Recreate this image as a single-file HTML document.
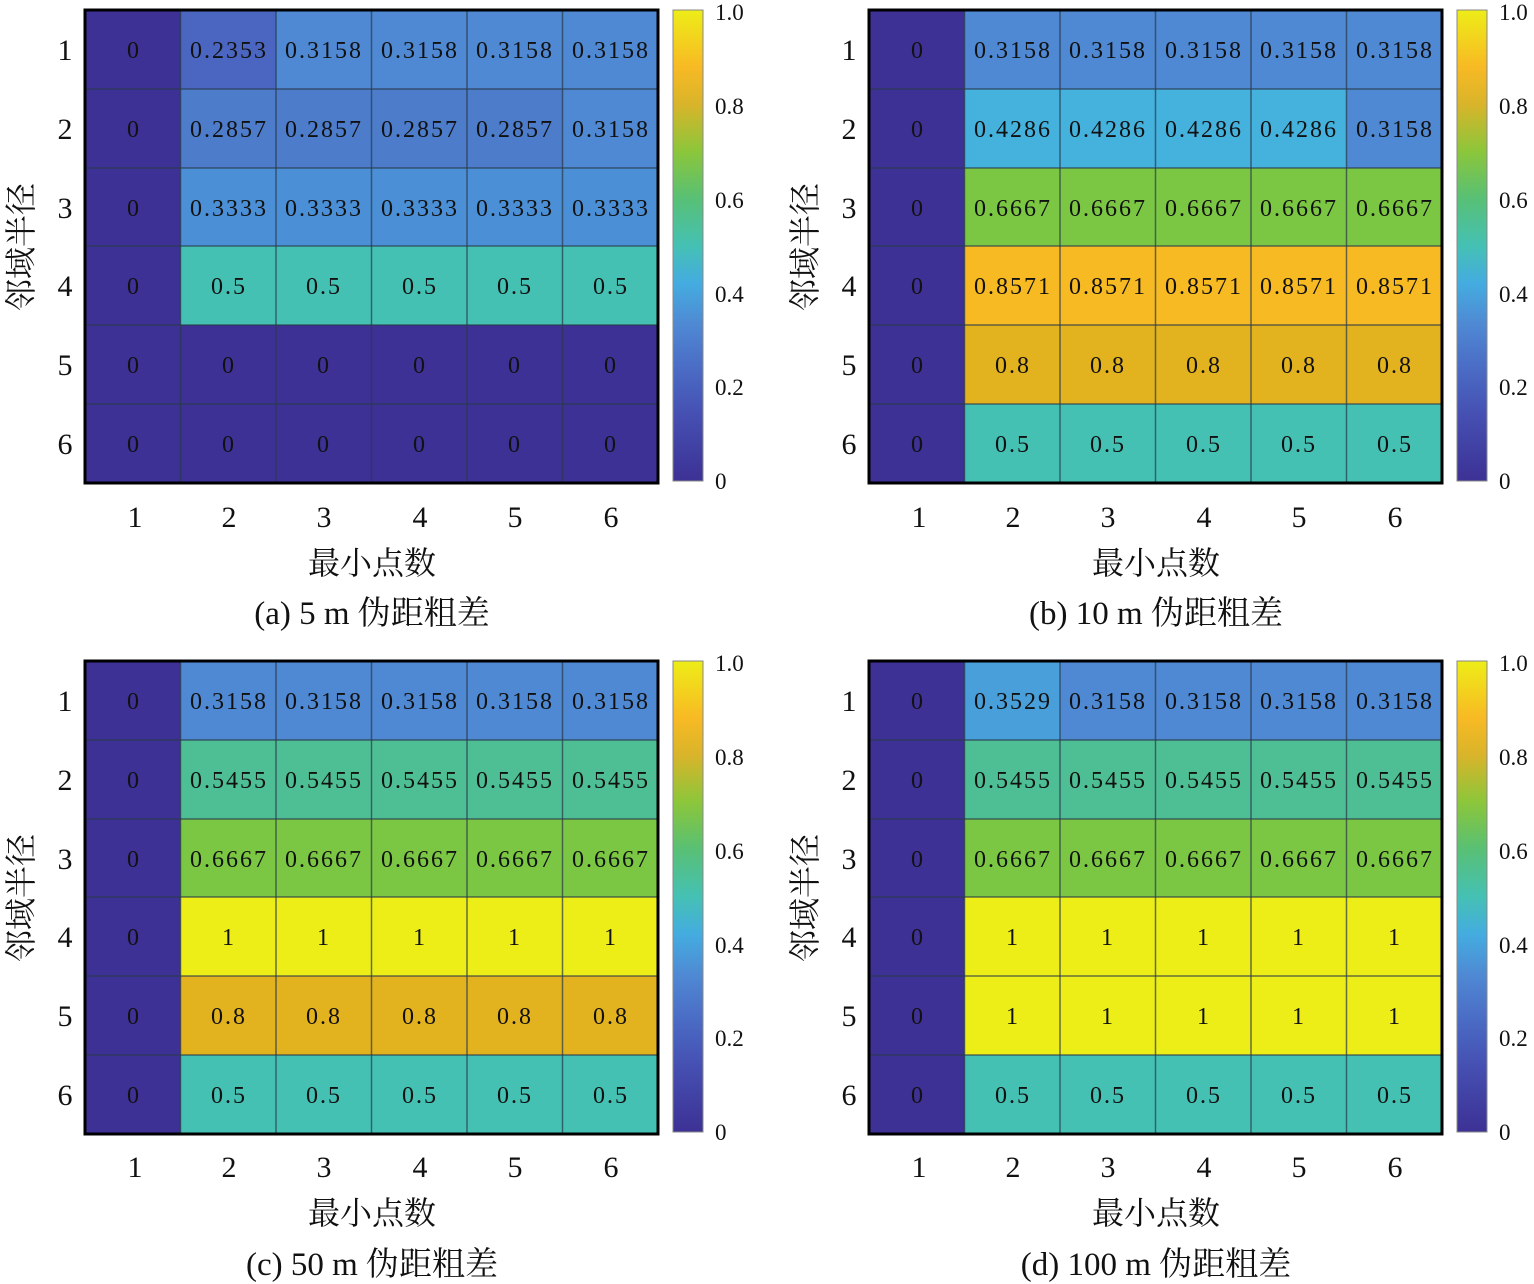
<!DOCTYPE html>
<html><head><meta charset="utf-8"><style>
html,body{margin:0;padding:0;background:#fff;}
svg{display:block;}
text{font-family:"Liberation Serif","Noto Serif CJK SC",serif;fill:#111;}
.c{font-size:24px;text-anchor:middle;letter-spacing:2px;}
.t{font-size:30px;text-anchor:middle;}
.cb{font-size:23px;}
.cj{font-family:"Liberation Serif","Noto Serif CJK SC",serif;font-size:32px;text-anchor:middle;}
.cap{font-family:"Liberation Serif","Noto Serif CJK SC",serif;font-size:33px;text-anchor:middle;}
.g line{stroke:#2a3a4a;stroke-width:1.5;opacity:.7}
</style></head><body>
<svg width="1534" height="1284" viewBox="0 0 1534 1284" xmlns="http://www.w3.org/2000/svg">
<defs>
<linearGradient id="pg" x1="0" y1="1" x2="0" y2="0">
<stop offset="0" stop-color="#3d3195"/><stop offset="0.15" stop-color="#4652b4"/><stop offset="0.25" stop-color="#4b6fc7"/><stop offset="0.33" stop-color="#4f88d3"/><stop offset="0.42" stop-color="#44ace0"/><stop offset="0.5" stop-color="#45c1b4"/><stop offset="0.6" stop-color="#58c075"/><stop offset="0.7" stop-color="#8cc63a"/><stop offset="0.8" stop-color="#d9b42a"/><stop offset="0.88" stop-color="#f8ba24"/><stop offset="1" stop-color="#eded17"/>
</linearGradient>
</defs>

<!-- Panel a -->
<g transform="translate(85,10)">
<rect x="0" y="0" width="95.5" height="473" fill="#3d3195"/>
<rect x="95.5" y="0" width="95.5" height="79" fill="#4b66c0"/>
<rect x="191" y="0" width="382" height="79" fill="#4f88d3"/>
<rect x="95.5" y="79" width="382" height="79" fill="#4d7ccb"/>
<rect x="477.5" y="79" width="95.5" height="79" fill="#4f88d3"/>
<rect x="95.5" y="158" width="477.5" height="78" fill="#4b8fd6"/>
<rect x="95.5" y="236" width="477.5" height="79" fill="#45c1b4"/>
<rect x="95.5" y="315" width="477.5" height="158" fill="#3d3195"/>
<g class="g"><line x1="95.5" y1="0" x2="95.5" y2="473"/><line x1="191" y1="0" x2="191" y2="473"/><line x1="286.5" y1="0" x2="286.5" y2="473"/><line x1="382" y1="0" x2="382" y2="473"/><line x1="477.5" y1="0" x2="477.5" y2="473"/><line x1="0" y1="79" x2="573" y2="79"/><line x1="0" y1="158" x2="573" y2="158"/><line x1="0" y1="236" x2="573" y2="236"/><line x1="0" y1="315" x2="573" y2="315"/><line x1="0" y1="394" x2="573" y2="394"/></g>
<rect x="0" y="0" width="573" height="473" fill="none" stroke="#000" stroke-width="3"/>
<text class="c" x="49" y="48">0</text><text class="c" x="144" y="48">0.2353</text><text class="c" x="239" y="48">0.3158</text><text class="c" x="335" y="48">0.3158</text><text class="c" x="430" y="48">0.3158</text><text class="c" x="526" y="48">0.3158</text>
<text class="c" x="49" y="127">0</text><text class="c" x="144" y="127">0.2857</text><text class="c" x="239" y="127">0.2857</text><text class="c" x="335" y="127">0.2857</text><text class="c" x="430" y="127">0.2857</text><text class="c" x="526" y="127">0.3158</text>
<text class="c" x="49" y="206">0</text><text class="c" x="144" y="206">0.3333</text><text class="c" x="239" y="206">0.3333</text><text class="c" x="335" y="206">0.3333</text><text class="c" x="430" y="206">0.3333</text><text class="c" x="526" y="206">0.3333</text>
<text class="c" x="49" y="284">0</text><text class="c" x="144" y="284">0.5</text><text class="c" x="239" y="284">0.5</text><text class="c" x="335" y="284">0.5</text><text class="c" x="430" y="284">0.5</text><text class="c" x="526" y="284">0.5</text>
<text class="c" x="49" y="363">0</text><text class="c" x="144" y="363">0</text><text class="c" x="239" y="363">0</text><text class="c" x="335" y="363">0</text><text class="c" x="430" y="363">0</text><text class="c" x="526" y="363">0</text>
<text class="c" x="49" y="442">0</text><text class="c" x="144" y="442">0</text><text class="c" x="239" y="442">0</text><text class="c" x="335" y="442">0</text><text class="c" x="430" y="442">0</text><text class="c" x="526" y="442">0</text>
<text class="t" x="-20" y="50">1</text><text class="t" x="-20" y="129">2</text><text class="t" x="-20" y="208">3</text><text class="t" x="-20" y="286">4</text><text class="t" x="-20" y="365">5</text><text class="t" x="-20" y="444">6</text>
<text class="t" x="50" y="517">1</text><text class="t" x="144" y="517">2</text><text class="t" x="239" y="517">3</text><text class="t" x="335" y="517">4</text><text class="t" x="430" y="517">5</text><text class="t" x="526" y="517">6</text>
<text class="cj" x="287" y="564">最小点数</text>
<text class="cap" x="287" y="614">(a) 5 m 伪距粗差</text>
<text class="cj" transform="translate(-63,237) rotate(-90)" y="10">邻域半径</text>
<rect x="588" y="0" width="30" height="471" fill="url(#pg)" stroke="#888" stroke-width="1"/>
<text class="cb" x="630" y="10">1.0</text><text class="cb" x="630" y="104">0.8</text><text class="cb" x="630" y="198">0.6</text><text class="cb" x="630" y="292">0.4</text><text class="cb" x="630" y="385">0.2</text><text class="cb" x="630" y="479">0</text>
</g>

<!-- Panel b -->
<g transform="translate(869,10)">
<rect x="0" y="0" width="95.5" height="473" fill="#3d3195"/>
<rect x="95.5" y="0" width="477.5" height="79" fill="#4f88d3"/>
<rect x="95.5" y="79" width="382" height="79" fill="#45b2dd"/>
<rect x="477.5" y="79" width="95.5" height="79" fill="#4f88d3"/>
<rect x="95.5" y="158" width="477.5" height="78" fill="#7bc744"/>
<rect x="95.5" y="236" width="477.5" height="79" fill="#f7ba22"/>
<rect x="95.5" y="315" width="477.5" height="79" fill="#e3b31f"/>
<rect x="95.5" y="394" width="477.5" height="79" fill="#45c1b4"/>
<g class="g"><line x1="95.5" y1="0" x2="95.5" y2="473"/><line x1="191" y1="0" x2="191" y2="473"/><line x1="286.5" y1="0" x2="286.5" y2="473"/><line x1="382" y1="0" x2="382" y2="473"/><line x1="477.5" y1="0" x2="477.5" y2="473"/><line x1="0" y1="79" x2="573" y2="79"/><line x1="0" y1="158" x2="573" y2="158"/><line x1="0" y1="236" x2="573" y2="236"/><line x1="0" y1="315" x2="573" y2="315"/><line x1="0" y1="394" x2="573" y2="394"/></g>
<rect x="0" y="0" width="573" height="473" fill="none" stroke="#000" stroke-width="3"/>
<text class="c" x="49" y="48">0</text><text class="c" x="144" y="48">0.3158</text><text class="c" x="239" y="48">0.3158</text><text class="c" x="335" y="48">0.3158</text><text class="c" x="430" y="48">0.3158</text><text class="c" x="526" y="48">0.3158</text>
<text class="c" x="49" y="127">0</text><text class="c" x="144" y="127">0.4286</text><text class="c" x="239" y="127">0.4286</text><text class="c" x="335" y="127">0.4286</text><text class="c" x="430" y="127">0.4286</text><text class="c" x="526" y="127">0.3158</text>
<text class="c" x="49" y="206">0</text><text class="c" x="144" y="206">0.6667</text><text class="c" x="239" y="206">0.6667</text><text class="c" x="335" y="206">0.6667</text><text class="c" x="430" y="206">0.6667</text><text class="c" x="526" y="206">0.6667</text>
<text class="c" x="49" y="284">0</text><text class="c" x="144" y="284">0.8571</text><text class="c" x="239" y="284">0.8571</text><text class="c" x="335" y="284">0.8571</text><text class="c" x="430" y="284">0.8571</text><text class="c" x="526" y="284">0.8571</text>
<text class="c" x="49" y="363">0</text><text class="c" x="144" y="363">0.8</text><text class="c" x="239" y="363">0.8</text><text class="c" x="335" y="363">0.8</text><text class="c" x="430" y="363">0.8</text><text class="c" x="526" y="363">0.8</text>
<text class="c" x="49" y="442">0</text><text class="c" x="144" y="442">0.5</text><text class="c" x="239" y="442">0.5</text><text class="c" x="335" y="442">0.5</text><text class="c" x="430" y="442">0.5</text><text class="c" x="526" y="442">0.5</text>
<text class="t" x="-20" y="50">1</text><text class="t" x="-20" y="129">2</text><text class="t" x="-20" y="208">3</text><text class="t" x="-20" y="286">4</text><text class="t" x="-20" y="365">5</text><text class="t" x="-20" y="444">6</text>
<text class="t" x="50" y="517">1</text><text class="t" x="144" y="517">2</text><text class="t" x="239" y="517">3</text><text class="t" x="335" y="517">4</text><text class="t" x="430" y="517">5</text><text class="t" x="526" y="517">6</text>
<text class="cj" x="287" y="564">最小点数</text>
<text class="cap" x="287" y="614">(b) 10 m 伪距粗差</text>
<text class="cj" transform="translate(-63,237) rotate(-90)" y="10">邻域半径</text>
<rect x="588" y="0" width="30" height="471" fill="url(#pg)" stroke="#888" stroke-width="1"/>
<text class="cb" x="630" y="10">1.0</text><text class="cb" x="630" y="104">0.8</text><text class="cb" x="630" y="198">0.6</text><text class="cb" x="630" y="292">0.4</text><text class="cb" x="630" y="385">0.2</text><text class="cb" x="630" y="479">0</text>
</g>

<!-- Panel c -->
<g transform="translate(85,661)">
<rect x="0" y="0" width="95.5" height="473" fill="#3d3195"/>
<rect x="95.5" y="0" width="477.5" height="79" fill="#4f88d3"/>
<rect x="95.5" y="79" width="477.5" height="79" fill="#4ebf95"/>
<rect x="95.5" y="158" width="477.5" height="78" fill="#7bc744"/>
<rect x="95.5" y="236" width="477.5" height="79" fill="#eded17"/>
<rect x="95.5" y="315" width="477.5" height="79" fill="#e3b31f"/>
<rect x="95.5" y="394" width="477.5" height="79" fill="#45c1b4"/>
<g class="g"><line x1="95.5" y1="0" x2="95.5" y2="473"/><line x1="191" y1="0" x2="191" y2="473"/><line x1="286.5" y1="0" x2="286.5" y2="473"/><line x1="382" y1="0" x2="382" y2="473"/><line x1="477.5" y1="0" x2="477.5" y2="473"/><line x1="0" y1="79" x2="573" y2="79"/><line x1="0" y1="158" x2="573" y2="158"/><line x1="0" y1="236" x2="573" y2="236"/><line x1="0" y1="315" x2="573" y2="315"/><line x1="0" y1="394" x2="573" y2="394"/></g>
<rect x="0" y="0" width="573" height="473" fill="none" stroke="#000" stroke-width="3"/>
<text class="c" x="49" y="48">0</text><text class="c" x="144" y="48">0.3158</text><text class="c" x="239" y="48">0.3158</text><text class="c" x="335" y="48">0.3158</text><text class="c" x="430" y="48">0.3158</text><text class="c" x="526" y="48">0.3158</text>
<text class="c" x="49" y="127">0</text><text class="c" x="144" y="127">0.5455</text><text class="c" x="239" y="127">0.5455</text><text class="c" x="335" y="127">0.5455</text><text class="c" x="430" y="127">0.5455</text><text class="c" x="526" y="127">0.5455</text>
<text class="c" x="49" y="206">0</text><text class="c" x="144" y="206">0.6667</text><text class="c" x="239" y="206">0.6667</text><text class="c" x="335" y="206">0.6667</text><text class="c" x="430" y="206">0.6667</text><text class="c" x="526" y="206">0.6667</text>
<text class="c" x="49" y="284">0</text><text class="c" x="144" y="284">1</text><text class="c" x="239" y="284">1</text><text class="c" x="335" y="284">1</text><text class="c" x="430" y="284">1</text><text class="c" x="526" y="284">1</text>
<text class="c" x="49" y="363">0</text><text class="c" x="144" y="363">0.8</text><text class="c" x="239" y="363">0.8</text><text class="c" x="335" y="363">0.8</text><text class="c" x="430" y="363">0.8</text><text class="c" x="526" y="363">0.8</text>
<text class="c" x="49" y="442">0</text><text class="c" x="144" y="442">0.5</text><text class="c" x="239" y="442">0.5</text><text class="c" x="335" y="442">0.5</text><text class="c" x="430" y="442">0.5</text><text class="c" x="526" y="442">0.5</text>
<text class="t" x="-20" y="50">1</text><text class="t" x="-20" y="129">2</text><text class="t" x="-20" y="208">3</text><text class="t" x="-20" y="286">4</text><text class="t" x="-20" y="365">5</text><text class="t" x="-20" y="444">6</text>
<text class="t" x="50" y="516">1</text><text class="t" x="144" y="516">2</text><text class="t" x="239" y="516">3</text><text class="t" x="335" y="516">4</text><text class="t" x="430" y="516">5</text><text class="t" x="526" y="516">6</text>
<text class="cj" x="287" y="563">最小点数</text>
<text class="cap" x="287" y="614">(c) 50 m 伪距粗差</text>
<text class="cj" transform="translate(-63,237) rotate(-90)" y="10">邻域半径</text>
<rect x="588" y="0" width="30" height="471" fill="url(#pg)" stroke="#888" stroke-width="1"/>
<text class="cb" x="630" y="10">1.0</text><text class="cb" x="630" y="104">0.8</text><text class="cb" x="630" y="198">0.6</text><text class="cb" x="630" y="292">0.4</text><text class="cb" x="630" y="385">0.2</text><text class="cb" x="630" y="479">0</text>
</g>

<!-- Panel d -->
<g transform="translate(869,661)">
<rect x="0" y="0" width="95.5" height="473" fill="#3d3195"/>
<rect x="95.5" y="0" width="95.5" height="79" fill="#489fda"/>
<rect x="191" y="0" width="382" height="79" fill="#4f88d3"/>
<rect x="95.5" y="79" width="477.5" height="79" fill="#4ebf95"/>
<rect x="95.5" y="158" width="477.5" height="78" fill="#7bc744"/>
<rect x="95.5" y="236" width="477.5" height="158" fill="#eded17"/>
<rect x="95.5" y="394" width="477.5" height="79" fill="#45c1b4"/>
<g class="g"><line x1="95.5" y1="0" x2="95.5" y2="473"/><line x1="191" y1="0" x2="191" y2="473"/><line x1="286.5" y1="0" x2="286.5" y2="473"/><line x1="382" y1="0" x2="382" y2="473"/><line x1="477.5" y1="0" x2="477.5" y2="473"/><line x1="0" y1="79" x2="573" y2="79"/><line x1="0" y1="158" x2="573" y2="158"/><line x1="0" y1="236" x2="573" y2="236"/><line x1="0" y1="315" x2="573" y2="315"/><line x1="0" y1="394" x2="573" y2="394"/></g>
<rect x="0" y="0" width="573" height="473" fill="none" stroke="#000" stroke-width="3"/>
<text class="c" x="49" y="48">0</text><text class="c" x="144" y="48">0.3529</text><text class="c" x="239" y="48">0.3158</text><text class="c" x="335" y="48">0.3158</text><text class="c" x="430" y="48">0.3158</text><text class="c" x="526" y="48">0.3158</text>
<text class="c" x="49" y="127">0</text><text class="c" x="144" y="127">0.5455</text><text class="c" x="239" y="127">0.5455</text><text class="c" x="335" y="127">0.5455</text><text class="c" x="430" y="127">0.5455</text><text class="c" x="526" y="127">0.5455</text>
<text class="c" x="49" y="206">0</text><text class="c" x="144" y="206">0.6667</text><text class="c" x="239" y="206">0.6667</text><text class="c" x="335" y="206">0.6667</text><text class="c" x="430" y="206">0.6667</text><text class="c" x="526" y="206">0.6667</text>
<text class="c" x="49" y="284">0</text><text class="c" x="144" y="284">1</text><text class="c" x="239" y="284">1</text><text class="c" x="335" y="284">1</text><text class="c" x="430" y="284">1</text><text class="c" x="526" y="284">1</text>
<text class="c" x="49" y="363">0</text><text class="c" x="144" y="363">1</text><text class="c" x="239" y="363">1</text><text class="c" x="335" y="363">1</text><text class="c" x="430" y="363">1</text><text class="c" x="526" y="363">1</text>
<text class="c" x="49" y="442">0</text><text class="c" x="144" y="442">0.5</text><text class="c" x="239" y="442">0.5</text><text class="c" x="335" y="442">0.5</text><text class="c" x="430" y="442">0.5</text><text class="c" x="526" y="442">0.5</text>
<text class="t" x="-20" y="50">1</text><text class="t" x="-20" y="129">2</text><text class="t" x="-20" y="208">3</text><text class="t" x="-20" y="286">4</text><text class="t" x="-20" y="365">5</text><text class="t" x="-20" y="444">6</text>
<text class="t" x="50" y="516">1</text><text class="t" x="144" y="516">2</text><text class="t" x="239" y="516">3</text><text class="t" x="335" y="516">4</text><text class="t" x="430" y="516">5</text><text class="t" x="526" y="516">6</text>
<text class="cj" x="287" y="563">最小点数</text>
<text class="cap" x="287" y="614">(d) 100 m 伪距粗差</text>
<text class="cj" transform="translate(-63,237) rotate(-90)" y="10">邻域半径</text>
<rect x="588" y="0" width="30" height="471" fill="url(#pg)" stroke="#888" stroke-width="1"/>
<text class="cb" x="630" y="10">1.0</text><text class="cb" x="630" y="104">0.8</text><text class="cb" x="630" y="198">0.6</text><text class="cb" x="630" y="292">0.4</text><text class="cb" x="630" y="385">0.2</text><text class="cb" x="630" y="479">0</text>
</g>
</svg>
</body></html>
